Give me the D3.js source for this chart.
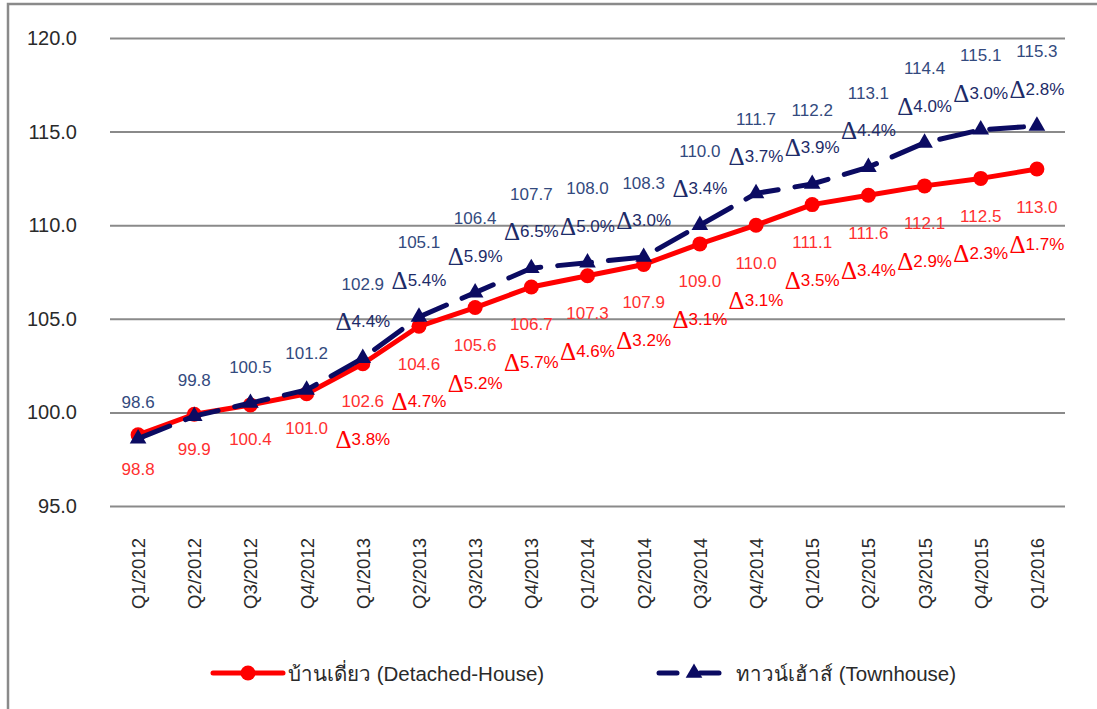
<!DOCTYPE html>
<html>
<head>
<meta charset="utf-8">
<script src="https://cdn.jsdelivr.net/npm/d3@7"></script>
<style>
  body { margin: 0; background: #fff; }
  text { font-family: "Liberation Sans", Arial, sans-serif; }
</style>
</head>
<body>
<div id="chart"></div>
<script>
// Quarter labels and the two price index series.
const quarters = ["Q1/2012", "Q2/2012", "Q3/2012", "Q4/2012", "Q1/2013", "Q2/2013", "Q3/2013", "Q4/2013",
  "Q1/2014", "Q2/2014", "Q3/2014", "Q4/2014", "Q1/2015", "Q2/2015", "Q3/2015", "Q4/2015", "Q1/2016"];
const detached = [98.8, 99.9, 100.4, 101.0, 102.6, 104.6, 105.6, 106.7, 107.3, 107.9, 109.0, 110.0, 111.1, 111.6, 112.1, 112.5, 113.0];
const townhouse = [98.6, 99.8, 100.5, 101.2, 102.9, 105.1, 106.4, 107.7, 108.0, 108.3, 110.0, 111.7, 112.2, 113.1, 114.4, 115.1, 115.3];
// Year-on-year change (%), shown from Q1/2013 on.
const detachedChange = [null, null, null, null, 3.8, 4.7, 5.2, 5.7, 4.6, 3.2, 3.1, 3.1, 3.5, 3.4, 2.9, 2.3, 1.7];
const townhouseChange = [null, null, null, null, 4.4, 5.4, 5.9, 6.5, 5.0, 3.0, 3.4, 3.7, 3.9, 4.4, 4.0, 3.0, 2.8];
const yTicks = [95, 100, 105, 110, 115, 120];
const legendLabels = ["บ้านเดี่ยว (Detached-House)", "ทาวน์เฮ้าส์ (Townhouse)"];

const width = 1097, height = 709;
const margin = { top: 38, right: 32, bottom: 203, left: 110 };

const svg = d3.select("#chart")
  .append("svg")
  .attr("width", width)
  .attr("height", height);

// outer frame (only left and top edges are inside the picture)
svg.append("rect")
  .attr("x", 8).attr("y", 4)
  .attr("width", width + 20).attr("height", height + 20)
  .attr("fill", "none")
  .attr("stroke", "#8a8a8a")
  .attr("stroke-width", 2.5);

const x = d3.scalePoint()
  .domain(quarters)
  .range([margin.left, width - margin.right])
  .padding(0.5);

const y = d3.scaleLinear()
  .domain([95, 120])
  .range([height - margin.bottom, margin.top]);

// gridlines + y labels
const yAxis = svg.append("g")
  .attr("transform", "translate(" + margin.left + ",0)")
  .call(d3.axisLeft(y)
    .tickValues(yTicks)
    .tickFormat(d3.format(".1f"))
    .tickSize(-(width - margin.left - margin.right))
    .tickPadding(33));
yAxis.select(".domain").remove();
yAxis.selectAll(".tick line").attr("stroke", "#8a8a8a").attr("stroke-width", 2);
yAxis.selectAll(".tick text")
  .attr("fill", "#2a2a2a")
  .style("font-size", "20px");

// x labels, rotated
const xAxis = svg.append("g")
  .attr("transform", "translate(0," + y(95) + ")")
  .call(d3.axisBottom(x).tickSize(0));
xAxis.select(".domain").remove();
xAxis.selectAll(".tick text")
  .attr("transform", "rotate(-90)")
  .attr("text-anchor", "end")
  .attr("x", -32)
  .attr("y", 0)
  .attr("dy", "0.35em")
  .attr("fill", "#2a2a2a")
  .style("font-size", "18.5px");

const red = "#ff0000", navy = "#0b0b62";

// detached line
svg.append("path")
  .datum(detached)
  .attr("fill", "none")
  .attr("stroke", red)
  .attr("stroke-width", 5)
  .attr("stroke-linejoin", "round")
  .attr("d", d3.line().x((d, i) => x(quarters[i])).y(d => y(d)));

svg.selectAll(".dot")
  .data(detached)
  .enter()
  .append("circle")
  .attr("cx", (d, i) => x(quarters[i]))
  .attr("cy", d => y(d))
  .attr("r", 7.5)
  .attr("fill", red);

// townhouse dashed line
svg.append("path")
  .datum(townhouse)
  .attr("fill", "none")
  .attr("stroke", navy)
  .attr("stroke-width", 5)
  .attr("stroke-linecap", "round")
  .attr("stroke-dasharray", "34,17")
  .attr("d", d3.line().x((d, i) => x(quarters[i])).y(d => y(d)));

const tri = d3.symbol().type(d3.symbolTriangle).size(120);
svg.selectAll(".tri")
  .data(townhouse)
  .enter()
  .append("path")
  .attr("d", tri)
  .attr("transform", (d, i) => "translate(" + x(quarters[i]) + "," + y(d) + ")")
  .attr("fill", navy);

// data labels
function deltaLabel(sel, v, color) {
  sel.append("tspan")
    .style("font-family", "'Liberation Serif', 'DejaVu Serif', serif")
    .style("font-size", "25px")
    .attr("fill", color)
    .text("Δ");
  sel.append("tspan")
    .style("font-size", "17px")
    .attr("fill", color)
    .text(v.toFixed(1) + "%");
}

const redLbl = "#ff3030", blueLbl = "#334a7e", blueDelta = "#1d2b68";

detached.forEach((v, i) => {
  const cx = x(quarters[i]), cy = y(v);
  svg.append("text")
    .attr("x", cx).attr("y", cy + (detachedChange[i] == null ? 35 : 38))
    .attr("text-anchor", "middle").attr("dominant-baseline", "central")
    .attr("fill", redLbl).style("font-size", "17px")
    .text(v.toFixed(1));
  if (detachedChange[i] != null) {
    const t = svg.append("text")
      .attr("x", cx).attr("y", cy + 75)
      .attr("text-anchor", "middle").attr("dominant-baseline", "central");
    deltaLabel(t, detachedChange[i], red);
  }
});

townhouse.forEach((v, i) => {
  const cx = x(quarters[i]), cy = y(v);
  const hasDelta = townhouseChange[i] != null;
  svg.append("text")
    .attr("x", cx).attr("y", cy - (hasDelta ? 74 : 36))
    .attr("text-anchor", "middle").attr("dominant-baseline", "central")
    .attr("fill", blueLbl).style("font-size", "17px")
    .text(v.toFixed(1));
  if (hasDelta) {
    const t = svg.append("text")
      .attr("x", cx).attr("y", cy - 37)
      .attr("text-anchor", "middle").attr("dominant-baseline", "central");
    deltaLabel(t, townhouseChange[i], blueDelta);
  }
});

// legend
const legY = 673;
const leg1 = svg.append("g");
leg1.append("line").attr("x1", 213).attr("x2", 283).attr("y1", legY).attr("y2", legY)
  .attr("stroke", red).attr("stroke-width", 5).attr("stroke-linecap", "round");
leg1.append("circle").attr("cx", 248).attr("cy", legY).attr("r", 7.5).attr("fill", red);
leg1.append("text").attr("x", 288).attr("y", legY).attr("dominant-baseline", "central")
  .attr("fill", "#2a2a2a").style("font-size", "20.5px")
  .text(legendLabels[0]);

const leg2 = svg.append("g");
leg2.append("line").attr("x1", 659).attr("x2", 677).attr("y1", legY).attr("y2", legY)
  .attr("stroke", navy).attr("stroke-width", 5).attr("stroke-linecap", "round");
leg2.append("line").attr("x1", 700).attr("x2", 719).attr("y1", legY).attr("y2", legY)
  .attr("stroke", navy).attr("stroke-width", 5).attr("stroke-linecap", "round");
leg2.append("path").attr("d", tri).attr("transform", "translate(694," + legY + ")").attr("fill", navy);
leg2.append("text").attr("x", 736).attr("y", legY).attr("dominant-baseline", "central")
  .attr("fill", "#2a2a2a").style("font-size", "20.5px")
  .text(legendLabels[1]);
</script>
</body>
</html>
